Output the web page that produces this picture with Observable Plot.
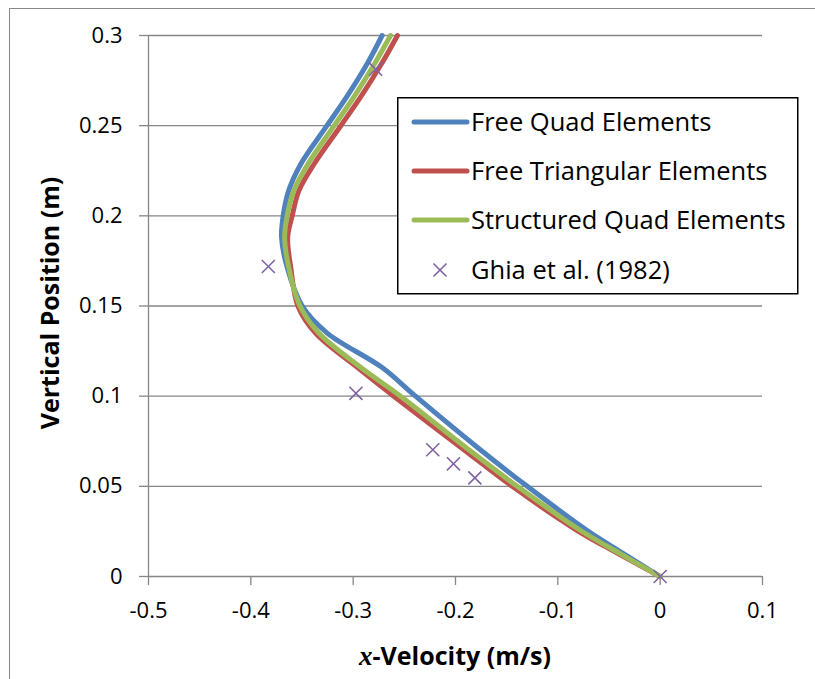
<!DOCTYPE html>
<html><head><meta charset="utf-8">
<script src="https://cdn.jsdelivr.net/npm/d3@7"></script>
<script src="https://cdn.jsdelivr.net/npm/@observablehq/plot@0.6"></script>
<style>
body{margin:0;background:#fff;}
#wrap{position:relative;width:815px;height:679px;overflow:hidden;font-family:"Open Sans",sans-serif;background:#fff;}
#border{position:absolute;left:9px;top:8px;width:900px;height:800px;border:1.5px solid #8a8a8a;}
#chart{position:absolute;left:0;top:0;}
.title{position:absolute;font-weight:bold;font-size:25px;color:#000;white-space:nowrap;font-family:"Open Sans",sans-serif;}
#xtitle{left:455px;top:655px;transform:translate(-50%,-50%);}
#ytitle{left:49px;top:303px;transform:translate(-50%,-50%) rotate(-90deg);}
#legend{position:absolute;left:397px;top:97px;}
</style></head><body>
<div id="wrap"><div id="border"></div><div id="chart"></div>
<div class="title" id="xtitle"><span style="font-family:'Liberation Serif',serif;font-style:italic;font-size:27px;">x</span>-Velocity (m/s)</div>
<div class="title" id="ytitle">Vertical Position (m)</div>
<svg id="legend" width="402" height="198"></svg>
</div>
<script>
// vertical positions (m) at which the simulated curves are sampled
const yPos = [0, 0.0126, 0.0255, 0.05, 0.0717, 0.1, 0.116, 0.135, 0.15, 0.1715, 0.188, 0.2, 0.214, 0.2289, 0.2497, 0.2658, 0.2843, 0.3];
const freeQuad = [0, -0.0355, -0.0713, -0.1299, -0.1788, -0.2391, -0.272, -0.3254, -0.3498, -0.3645, -0.370, -0.3684, -0.363, -0.351, -0.326, -0.3065, -0.2863, -0.2717];
const freeTri = [0, -0.0407, -0.081, -0.1446, -0.195, -0.2603, -0.296, -0.3368, -0.354, -0.361, -0.364, -0.3596, -0.353, -0.338, -0.3124, -0.2928, -0.2723, -0.2567];
const structQuad = [0, -0.039, -0.0778, -0.1397, -0.1902, -0.2537, -0.2928, -0.3336, -0.352, -0.363, -0.367, -0.3645, -0.358, -0.344, -0.3189, -0.2994, -0.2791, -0.2635];
// Ghia et al. (1982) reference points
const ghiaY = [0, 0.0547, 0.0625, 0.0703, 0.1016, 0.1719, 0.2813];
const ghiaU = [0, -0.18109, -0.20196, -0.22220, -0.29730, -0.38289, -0.27805];

const seriesNames = ["Free Quad Elements", "Free Triangular Elements", "Structured Quad Elements", "Ghia et al. (1982)"];
const seriesColors = ["#4F81BD", "#C0504D", "#9BBB59", "#8064A2"];

const xTicks = [-0.5, -0.4, -0.3, -0.2, -0.1, 0, 0.1];
const xTickLabels = ["-0.5", "-0.4", "-0.3", "-0.2", "-0.1", "0", "0.1"];
const yTicks = [0, 0.05, 0.1, 0.15, 0.2, 0.25, 0.3];
const yTickLabels = ["0", "0.05", "0.1", "0.15", "0.2", "0.25", "0.3"];

const lines = [freeQuad, freeTri, structQuad].flatMap((arr, s) =>
  arr.map((u, i) => ({series: seriesNames[s], u, y: yPos[i]})));
const ghia = ghiaU.map((u, i) => ({u, y: ghiaY[i]}));

const grid = "#868686";
const chart = Plot.plot({
  width: 815, height: 679,
  marginLeft: 148, marginRight: 53, marginTop: 35, marginBottom: 103,
  style: {fontFamily: "'Open Sans', sans-serif", fontSize: "22px", background: "transparent", color: "#000"},
  x: {domain: [-0.5, 0.1]},
  y: {domain: [0, 0.3]},
  color: {domain: seriesNames.slice(0, 3), range: seriesColors.slice(0, 3)},
  marks: [
    Plot.ruleY(yTicks.slice(1), {stroke: grid, strokeWidth: 1.3}),
    Plot.ruleX([-0.5], {stroke: grid, strokeWidth: 1.3}),
    Plot.ruleY([0], {stroke: grid, strokeWidth: 1.3}),
    Plot.axisX({ticks: xTicks, tickFormat: (d, i) => xTickLabels[i], tickSize: 9, tickPadding: 17, stroke: grid, strokeWidth: 1.3, fill: "#000", label: null, fontSize: 22}),
    Plot.axisY({ticks: yTicks, tickFormat: (d, i) => yTickLabels[i], tickSize: 9, tickPadding: 17, stroke: grid, strokeWidth: 1.3, fill: "#000", label: null, fontSize: 22}),
    Plot.line(lines, {x: "u", y: "y", z: "series", stroke: "series", strokeWidth: 5, curve: "catmull-rom"}),
    Plot.dot(ghia, {x: "u", y: "y", symbol: "times", r: 6, stroke: seriesColors[3], strokeWidth: 1.6})
  ]
});
document.getElementById("chart").appendChild(chart);

// legend
const lg = d3.select("#legend");
lg.append("rect").attr("x", 0.75).attr("y", 0.75).attr("width", 400).attr("height", 196)
  .attr("fill", "#fff").attr("stroke", "#000").attr("stroke-width", 1.5);
const rowY = [25, 74, 123, 173];
seriesNames.forEach((name, i) => {
  const g = lg.append("g").attr("transform", `translate(0,${rowY[i]})`);
  if (i < 3) {
    g.append("line").attr("x1", 17).attr("x2", 70).attr("stroke", seriesColors[i])
      .attr("stroke-width", 5).attr("stroke-linecap", "round");
  } else {
    g.append("path").attr("d", d3.symbol(d3.symbolTimes, Math.PI * 36)())
      .attr("transform", "translate(43,0)").attr("fill", "none")
      .attr("stroke", seriesColors[3]).attr("stroke-width", 1.6);
  }
  g.append("text").attr("x", 74).attr("dy", "0.35em").attr("font-size", 25.5)
    .attr("font-family", "'Open Sans', sans-serif").attr("fill", "#000").text(name);
});
</script>
</body></html>
